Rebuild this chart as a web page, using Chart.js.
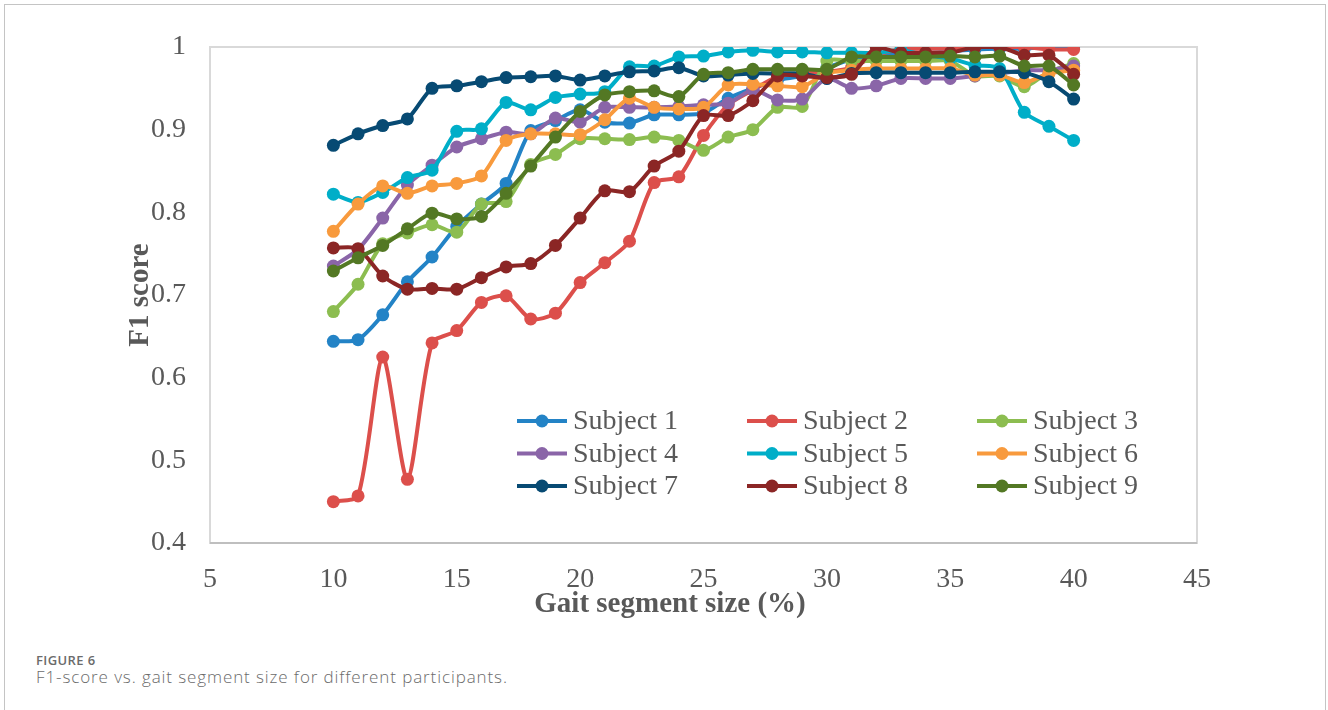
<!DOCTYPE html>
<html>
<head>
<meta charset="utf-8">
<script src="https://cdn.jsdelivr.net/npm/chart.js@4.4.1/dist/chart.umd.min.js"></script>
<style>
  html, body { margin: 0; padding: 0; background: #fff; }
  body { width: 1328px; height: 710px; position: relative; overflow: hidden; }
  #frame { position: absolute; left: 4px; top: 4px; width: 1320px; height: 760px;
           border: 1px solid #c4c4c4; }
  #wrap { position: absolute; left: 0; top: 0; width: 1328px; height: 640px; }
  #cap1 { position: absolute; left: 36px; top: 651px; font: 600 13px "Open Sans", sans-serif;
          letter-spacing: 0.4px; color: #6b6b6b; }
  #cap2 { position: absolute; left: 36px; top: 665px; font: 300 17px "Open Sans", sans-serif;
          letter-spacing: 0.9px; color: #6b6b6b; }
</style>
</head>
<body>
<div id="frame"></div>
<div id="wrap"><canvas id="chart1"></canvas></div>
<div id="cap1">FIGURE 6</div>
<div id="cap2">F1-score vs. gait segment size for different participants.</div>
<script>
// segment sizes (%) on the x axis
const segmentSizes = [10,11,12,13,14,15,16,17,18,19,20,21,22,23,24,25,26,27,28,29,30,31,32,33,34,35,36,37,38,39,40];
const xTicks = [5,10,15,20,25,30,35,40,45];
const yTicks = [0.4,0.5,0.6,0.7,0.8,0.9,1];
const yTickLabels = ["0.4","0.5","0.6","0.7","0.8","0.9","1"];

const subject1 = [0.644,0.646,0.676,0.716,0.746,0.783,0.810,0.835,0.899,0.911,0.924,0.909,0.908,0.918,0.918,0.920,0.938,0.950,0.960,0.965,0.975,0.985,0.990,0.993,0.993,0.995,0.997,0.998,0.998,1.000,1.000];
const subject2 = [0.450,0.457,0.625,0.477,0.642,0.657,0.691,0.699,0.671,0.678,0.715,0.739,0.765,0.836,0.843,0.893,0.930,0.948,0.964,0.968,0.970,0.975,0.990,0.997,0.998,0.998,1.000,1.000,1.000,0.997,0.997];
const subject3 = [0.680,0.713,0.762,0.775,0.785,0.776,0.810,0.813,0.858,0.870,0.889,0.889,0.888,0.891,0.887,0.875,0.891,0.900,0.927,0.928,0.983,0.983,0.983,0.983,0.983,0.983,0.965,0.965,0.952,0.970,0.980];
const subject4 = [0.735,0.755,0.793,0.833,0.857,0.879,0.889,0.897,0.895,0.914,0.909,0.927,0.927,0.927,0.928,0.930,0.932,0.948,0.936,0.937,0.962,0.950,0.953,0.962,0.962,0.962,0.965,0.968,0.972,0.972,0.977];
const subject5 = [0.822,0.812,0.824,0.842,0.851,0.898,0.901,0.933,0.924,0.939,0.943,0.946,0.976,0.977,0.988,0.989,0.994,0.996,0.994,0.994,0.993,0.993,0.993,0.996,0.990,0.986,0.978,0.974,0.921,0.904,0.887];
const subject6 = [0.777,0.810,0.832,0.823,0.832,0.835,0.844,0.887,0.895,0.895,0.894,0.912,0.938,0.927,0.925,0.927,0.954,0.955,0.953,0.952,0.968,0.972,0.974,0.974,0.974,0.974,0.966,0.966,0.957,0.968,0.972];
const subject7 = [0.881,0.895,0.905,0.913,0.950,0.953,0.958,0.963,0.964,0.965,0.960,0.965,0.970,0.971,0.975,0.965,0.966,0.968,0.968,0.968,0.962,0.968,0.969,0.969,0.969,0.969,0.970,0.970,0.969,0.958,0.937];
const subject8 = [0.757,0.756,0.723,0.707,0.708,0.707,0.721,0.734,0.738,0.760,0.793,0.826,0.825,0.856,0.874,0.917,0.917,0.935,0.965,0.965,0.963,0.967,1.000,0.993,0.993,0.993,1.000,1.000,0.990,0.990,0.967];
const subject9 = [0.729,0.745,0.760,0.780,0.799,0.792,0.795,0.823,0.856,0.891,0.922,0.942,0.946,0.947,0.940,0.967,0.969,0.973,0.973,0.973,0.973,0.988,0.988,0.988,0.988,0.989,0.988,0.989,0.977,0.977,0.954];

const seriesNames = ["Subject 1","Subject 2","Subject 3","Subject 4","Subject 5","Subject 6","Subject 7","Subject 8","Subject 9"];
const seriesValues = [subject1,subject2,subject3,subject4,subject5,subject6,subject7,subject8,subject9];
const seriesColors = ["#2383c6","#dc4f4b","#8cbd50","#8a65a8","#00aec8","#f89a3d","#074a73","#8b2625","#537824"];

const serif = "'Liberation Serif', 'Times New Roman', serif";
const textGray = "#595959";
const xTitle = "Gait segment size (%)";

const datasets = seriesValues.map((vals, i) => ({
    label: seriesNames[i],
    data: vals.map((v, j) => ({x: segmentSizes[j], y: v})),
    borderColor: seriesColors[i],
    backgroundColor: seriesColors[i],
    pointBackgroundColor: seriesColors[i],
    borderWidth: 4,
    pointRadius: 6.5,
    pointBorderWidth: 0,
    tension: 0.25,
    order: seriesValues.length - i,
}));

// light frame round the plot area
const plotFrame = {
    id: "plotFrame",
    beforeDatasetsDraw(chart) {
        const {ctx, chartArea: a} = chart;
        ctx.save();
        ctx.strokeStyle = "#d9d9d9";
        ctx.lineWidth = 2;
        ctx.strokeRect(a.left, a.top, a.right - a.left, a.bottom - a.top);
        ctx.strokeStyle = "#bfbfbf";
        ctx.beginPath();
        ctx.moveTo(a.left, a.bottom);
        ctx.lineTo(a.right, a.bottom);
        ctx.stroke();
        ctx.restore();
    },
    afterDraw(chart) {
        // x axis title, sits a little left of the plot centre as in the figure
        const {ctx, chartArea: a} = chart;
        ctx.save();
        ctx.font = "bold 29px " + serif;
        ctx.fillStyle = textGray;
        ctx.textAlign = "center";
        ctx.textBaseline = "middle";
        ctx.fillText(xTitle, a.left + 460, a.bottom + 62);
        ctx.restore();
    }
};

// three column legend inside the plot
const gridLegend = {
    id: "gridLegend",
    afterDatasetsDraw(chart) {
        const {ctx, chartArea: a} = chart;
        ctx.save();
        ctx.font = "28px " + serif;
        ctx.textBaseline = "middle";
        chart.data.datasets.forEach((ds, i) => {
            const col = i % 3, row = Math.floor(i / 3);
            const x0 = a.left + 307 + col * 230;
            const y = a.top + 374 + row * 32.5;
            ctx.strokeStyle = ds.borderColor;
            ctx.lineWidth = 4;
            ctx.beginPath();
            ctx.moveTo(x0, y);
            ctx.lineTo(x0 + 50, y);
            ctx.stroke();
            ctx.fillStyle = ds.borderColor;
            ctx.beginPath();
            ctx.arc(x0 + 25, y, 6.5, 0, Math.PI * 2);
            ctx.fill();
            ctx.fillStyle = textGray;
            ctx.fillText(ds.label, x0 + 56, y + 1);
        });
        ctx.restore();
    }
};

const chart1 = document.getElementById("chart1");
var stat1 = new Chart(chart1, {
    type: "line",
    data: { datasets: datasets },
    plugins: [plotFrame, gridLegend],
    options: {
        responsive: true,
        maintainAspectRatio: false,
        animation: false,
        layout: { padding: { left: 0, top: 47, right: 131, bottom: 0 } },
        plugins: { legend: { display: false }, tooltip: { enabled: false } },
        scales: {
            x: {
                type: "linear",
                min: 5, max: 45,
                afterBuildTicks: s => { s.ticks = xTicks.map(v => ({value: v})); },
                afterFit: s => { s.height = 97; },
                grid: { display: false, drawTicks: false },
                border: { display: false },
                ticks: { color: textGray, font: { family: serif, size: 28 }, padding: 20 },
                title: { display: false }
            },
            y: {
                min: 0.4, max: 1,
                afterBuildTicks: s => { s.ticks = yTicks.map(v => ({value: v})); },
                afterFit: s => { s.width = 210; },
                grid: { display: false, drawTicks: false },
                border: { display: false },
                ticks: { color: textGray, font: { family: serif, size: 28 }, padding: 24,
                         callback: (v, i) => yTickLabels[i] },
                title: { display: true, text: "F1 score", color: textGray,
                         font: { family: serif, size: 29, weight: "bold" }, padding: { top: 123, bottom: 0 } }
            }
        }
    }
});
</script>
</body>
</html>
